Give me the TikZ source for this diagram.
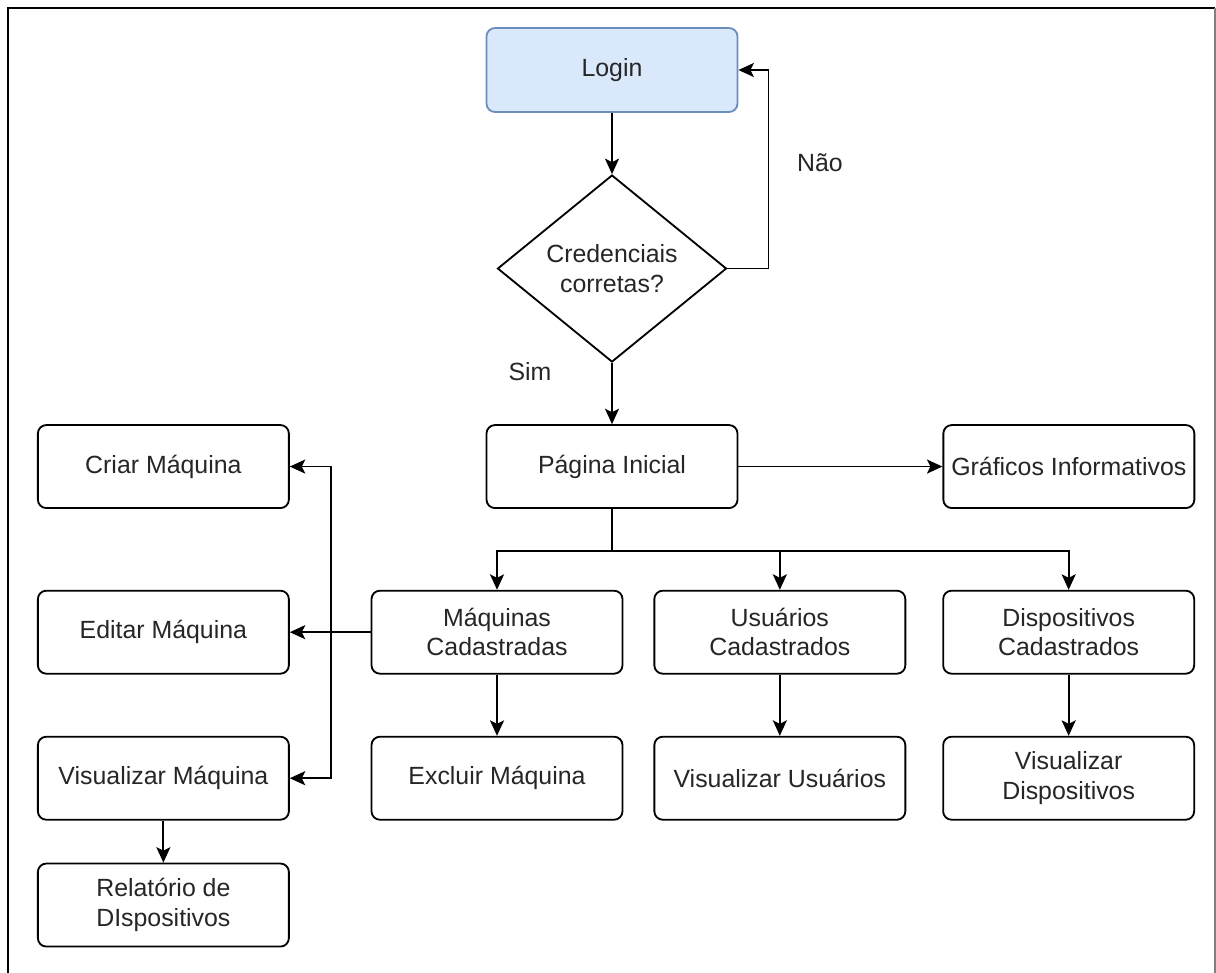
\documentclass[tikz,border=0pt]{standalone}
\usepackage{fontspec}
\setmainfont{Liberation Sans}
\usepackage{xcolor}
\definecolor{loginfill}{HTML}{DAE8FC}
\definecolor{logindraw}{HTML}{6C8EBF}
\definecolor{textgray}{HTML}{262626}
\usetikzlibrary{shapes.geometric, arrows.meta, positioning, calc}

\begin{document}
\begin{tikzpicture}[
    question/.style={
        diamond,
        draw=black,
        fill=white,
        line width=1.3pt,
        align=center,
        inner sep=0pt,
        aspect=1.22,
        minimum width=5.725cm,
        minimum height=4.675cm,
        text=textgray,
        font=\fontsize{17.7pt}{21pt}\selectfont,
    },
    action/.style={
        rectangle,
        rounded corners=6pt,
        draw=black,
        fill=white,
        line width=1.3pt,
        align=center,
        inner sep=2pt,
        minimum width=6.275cm,
        minimum height=2.075cm,
        text=textgray,
        font=\fontsize{17.7pt}{21pt}\selectfont,
    },
    start/.style={
        action,
        draw=logindraw,
        fill=loginfill,
        minimum height=2.1cm,
    },
    arr/.style={-{Stealth[length=11pt, width=10pt, inset=2.5pt]}, line width=1.3pt, color=black},
    lbl/.style={text=textgray, font=\fontsize{17.7pt}{21pt}\selectfont},
]

\useasboundingbox (0,0) rectangle (30.4,-24.3);

% frame
\draw[line width=1.4pt] (0.2,-24.4) -- (0.2,-0.2) -- (30.375,-0.2);
\draw[line width=0.8pt, gray] (30.375,-0.2) -- (30.375,-24.4);

\node[start] (login) at (15.3,-1.75) {Login};

\node[question, below=1.53cm of login] (cred)
    {Credenciais\\corretas?};

\node[action, below=1.53cm of cred] (inicial) {Página Inicial};

\node[action, right=5.1cm of inicial] (graficos) {Gráficos Informativos};

\node[action, below=2.02cm of inicial, xshift=-2.875cm] (maquinas)
    {Máquinas\\Cadastradas};
\node[action, right=0.75cm of maquinas] (usuarios)
    {Usuários\\Cadastrados};
\node[action, right=0.9cm of usuarios] (dispositivos)
    {Dispositivos\\Cadastrados};

\node[action, below=1.53cm of maquinas] (excluir) {Excluir Máquina};
\node[action, below=1.53cm of usuarios] (visusuarios) {Visualizar Usuários};
\node[action, below=1.53cm of dispositivos] (visdispositivos)
    {Visualizar\\Dispositivos};

\node[action, left=2.02cm of maquinas] (editar) {Editar Máquina};
\node[action, above=2.02cm of editar] (criar) {Criar Máquina};
\node[action, below=1.53cm of editar] (vismaquina) {Visualizar Máquina};
\node[action, below=1.05cm of vismaquina] (relatorio)
    {Relatório de\\DIspositivos};

\node[lbl] (nao) at (20.5,-4.075) {Não};
\node[lbl] (sim) at (13.25,-9.3) {Sim};

\coordinate (loopturn) at ($(login.east)+(0.75,0)$);
\coordinate (junction) at ($(inicial.south)+(0,-1.05)$);
\coordinate (bus) at ($(maquinas.west)+(-1,0)$);

\draw[arr] (login.south) -- (cred.north);
\draw[arr] (cred.east) -| (loopturn) -- (login.east);
\draw[arr] (cred.south) -- (inicial.north);
\draw[arr] (inicial.east) -- (graficos.west);

\draw[arr] (inicial.south) -- (junction) -| (maquinas.north);
\draw[arr] (junction) -| (usuarios.north);
\draw[arr] (junction) -| (dispositivos.north);

\draw[arr] (maquinas.south) -- (excluir.north);
\draw[arr] (usuarios.south) -- (visusuarios.north);
\draw[arr] (dispositivos.south) -- (visdispositivos.north);

\draw[arr] (maquinas.west) -- (editar.east);
\draw[arr] (bus) |- (criar.east);
\draw[arr] (bus) |- (vismaquina.east);
\draw[arr] (vismaquina.south) -- (relatorio.north);

\end{tikzpicture}
\end{document}
